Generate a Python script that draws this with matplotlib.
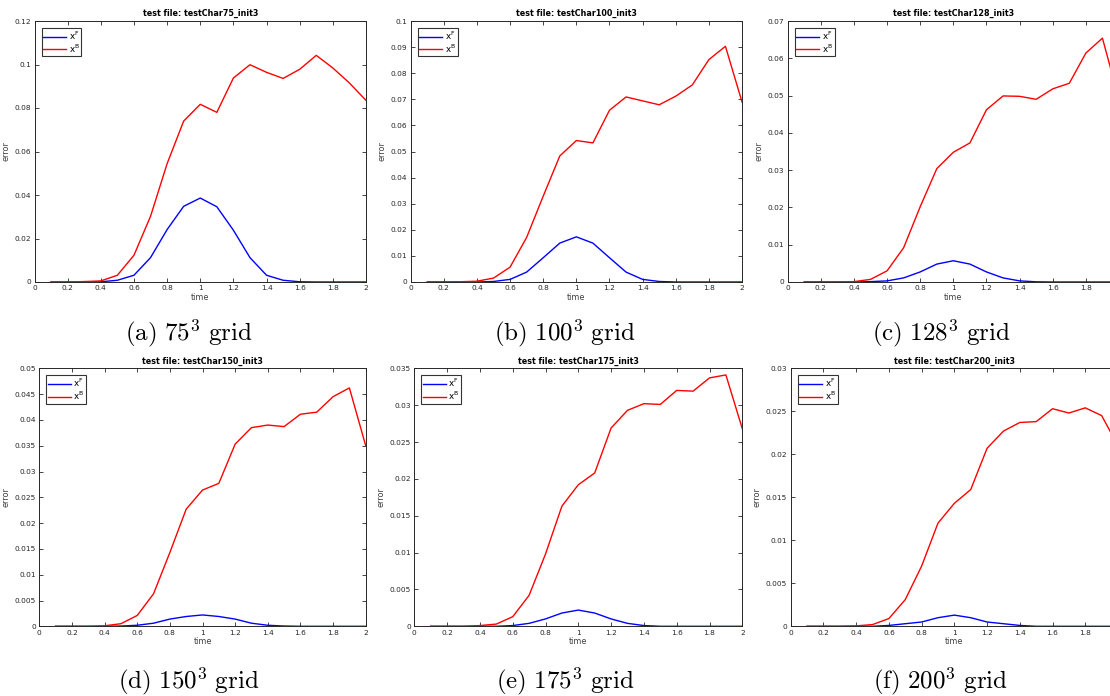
import matplotlib
matplotlib.use("Agg")
import matplotlib.pyplot as plt
from matplotlib.font_manager import FontProperties
from matplotlib.ticker import FuncFormatter, MultipleLocator

plt.rcParams["font.family"] = ["DejaVu Sans"]
plt.rcParams["mathtext.fontset"] = "cm"

time = [0.1, 0.2, 0.3, 0.4, 0.5, 0.6, 0.7, 0.8, 0.9, 1.0,
        1.1, 1.2, 1.3, 1.4, 1.5, 1.6, 1.7, 1.8, 1.9, 2.0]

# forward (x^F) and backward (x^B) errors per grid resolution
err_f_75 = [0, 0, 0, 0.0001, 0.0008, 0.0031, 0.0112, 0.0241, 0.0348, 0.0386,
            0.0346, 0.0238, 0.0112, 0.0031, 0.0008, 0.0001, 0, 0, 0, 0]
err_b_75 = [0, 0, 0.0002, 0.0005, 0.0031, 0.0123, 0.0302, 0.0544, 0.0740, 0.0817,
            0.0780, 0.0938, 0.0999, 0.0964, 0.0936, 0.0978, 0.1042, 0.0984, 0.0915, 0.0835]

err_f_100 = [0, 0, 0, 0, 0.0002, 0.0010, 0.0038, 0.0093, 0.0149, 0.0173,
             0.0149, 0.0093, 0.0038, 0.0010, 0.0002, 0, 0, 0, 0, 0]
err_b_100 = [0, 0, 0.0001, 0.0003, 0.0015, 0.0057, 0.0171, 0.0329, 0.0483, 0.0542,
             0.0533, 0.0658, 0.0709, 0.0694, 0.0679, 0.0712, 0.0755, 0.0852, 0.0903, 0.0690]

err_f_128 = [0, 0, 0, 0, 0.0001, 0.0003, 0.0011, 0.0027, 0.0048, 0.0057,
             0.0048, 0.0027, 0.0011, 0.0003, 0.00005, 0, 0, 0, 0, 0]
err_b_128 = [0, 0, 0, 0.0001, 0.0007, 0.0030, 0.0092, 0.0202, 0.0304, 0.0348,
             0.0373, 0.0462, 0.0499, 0.0498, 0.0490, 0.0518, 0.0533, 0.0614, 0.0654, 0.0490]

err_f_150 = [0, 0, 0, 0, 0.00005, 0.0002, 0.0006, 0.0014, 0.0019, 0.0022,
             0.0019, 0.0014, 0.0006, 0.0002, 0.00005, 0, 0, 0, 0, 0]
err_b_150 = [0, 0, 0, 0.0001, 0.0005, 0.0021, 0.0063, 0.0143, 0.0227, 0.0264,
             0.0277, 0.0353, 0.0385, 0.0390, 0.0387, 0.0411, 0.0415, 0.0445, 0.0462, 0.0350]

err_f_175 = [0, 0, 0, 0, 0, 0.0001, 0.0004, 0.0010, 0.0018, 0.0022,
             0.0018, 0.0010, 0.0004, 0.0001, 0, 0, 0, 0, 0, 0]
err_b_175 = [0, 0, 0, 0.0001, 0.0003, 0.0013, 0.0042, 0.0098, 0.0163, 0.0192,
             0.0208, 0.0269, 0.0293, 0.0302, 0.0301, 0.0320, 0.0319, 0.0337, 0.0341, 0.0268]

err_f_200 = [0, 0, 0, 0, 0, 0.0001, 0.0003, 0.0005, 0.0010, 0.0013,
             0.0010, 0.0005, 0.0003, 0.0001, 0, 0, 0, 0, 0, 0]
err_b_200 = [0, 0, 0, 0.00005, 0.0002, 0.0009, 0.0031, 0.0070, 0.0120, 0.0143,
             0.0159, 0.0207, 0.0227, 0.0237, 0.0238, 0.0253, 0.0248, 0.0254, 0.0245, 0.0210]

grids = [75, 100, 128, 150, 175, 200]
letters = ["a", "b", "c", "d", "e", "f"]
y_max = [0.12, 0.1, 0.07, 0.05, 0.035, 0.03]
y_step = [0.02, 0.01, 0.01, 0.005, 0.005, 0.005]
series_f = [err_f_75, err_f_100, err_f_128, err_f_150, err_f_175, err_f_200]
series_b = [err_b_75, err_b_100, err_b_128, err_b_150, err_b_175, err_b_200]

W, H = 1110, 696
fig = plt.figure(figsize=(W / 100, H / 100), dpi=100)

# axes boxes in pixels: left, right, top, bottom
boxes = [
    (34.5, 366, 21, 282), (410.7, 742, 21, 282), (787.7, 1119, 21, 282),
    (39.3, 365.7, 368.3, 626.3), (414.3, 742.3, 368.3, 626.3), (790.7, 1118, 368.3, 626.3),
]
caption_x = [189, 565, 941, 189, 565, 941]
caption_y = [333, 333, 333, 681, 681, 681]

axis_col = "#262626"
leg_prop = FontProperties(family="DejaVu Sans", size=6.3, math_fontfamily="dejavusans")


def make_fmt(xmax_visible):
    # tick labels that would fall past the page edge are left blank
    def f(v, p):
        if v > xmax_visible + 1e-9:
            return ""
        return "%g" % round(v, 6)
    return FuncFormatter(f)


for i in range(6):
    l, r, t, b = boxes[i]
    ax = fig.add_axes([l / W, 1 - b / H, (r - l) / W, (b - t) / H])
    ax.plot(time, series_f[i], color=(0, 0, 1), lw=1.0, label=r"x$^{\mathrm{F}}$")
    ax.plot(time, series_b[i], color=(1, 0, 0), lw=1.0, label=r"x$^{\mathrm{B}}$")
    ax.set_xlim(0, 2)
    ax.set_ylim(0, y_max[i])
    ax.xaxis.set_major_locator(MultipleLocator(0.2))
    ax.yaxis.set_major_locator(MultipleLocator(y_step[i]))
    visible_x = 2.0 * (W - 3 - l) / (r - l) if r > W else 2.0
    ax.xaxis.set_major_formatter(make_fmt(visible_x))
    ax.yaxis.set_major_formatter(make_fmt(1e9))
    ax.tick_params(direction="in", top=True, right=True, length=3.2, width=0.6,
                   labelsize=5.3, colors=axis_col, pad=2.5)
    for s in ax.spines.values():
        s.set_color(axis_col)
        s.set_linewidth(0.7)
    ax.set_title("test file: testChar%d_init3" % grids[i], fontsize=5.8,
                 fontweight="bold", pad=3.5, color="black")
    ax.set_xlabel("time", fontsize=5.8, color="#404040", labelpad=1)
    ax.set_ylabel("error", fontsize=5.8, color="#404040", labelpad=3)
    leg = ax.legend(loc="upper left", prop=leg_prop, frameon=True, fancybox=False,
                    edgecolor="black", handlelength=2.6, handletextpad=0.3,
                    borderpad=0.2, labelspacing=0.0, borderaxespad=0.8)
    leg.get_frame().set_linewidth(0.8)
    fig.text(caption_x[i] / W, 1 - caption_y[i] / H,
             r"$\mathrm{(%s)\ %d^3\ grid}$" % (letters[i], grids[i]),
             ha="center", va="center", fontsize=18)

fig.savefig("out.png", dpi=100)
